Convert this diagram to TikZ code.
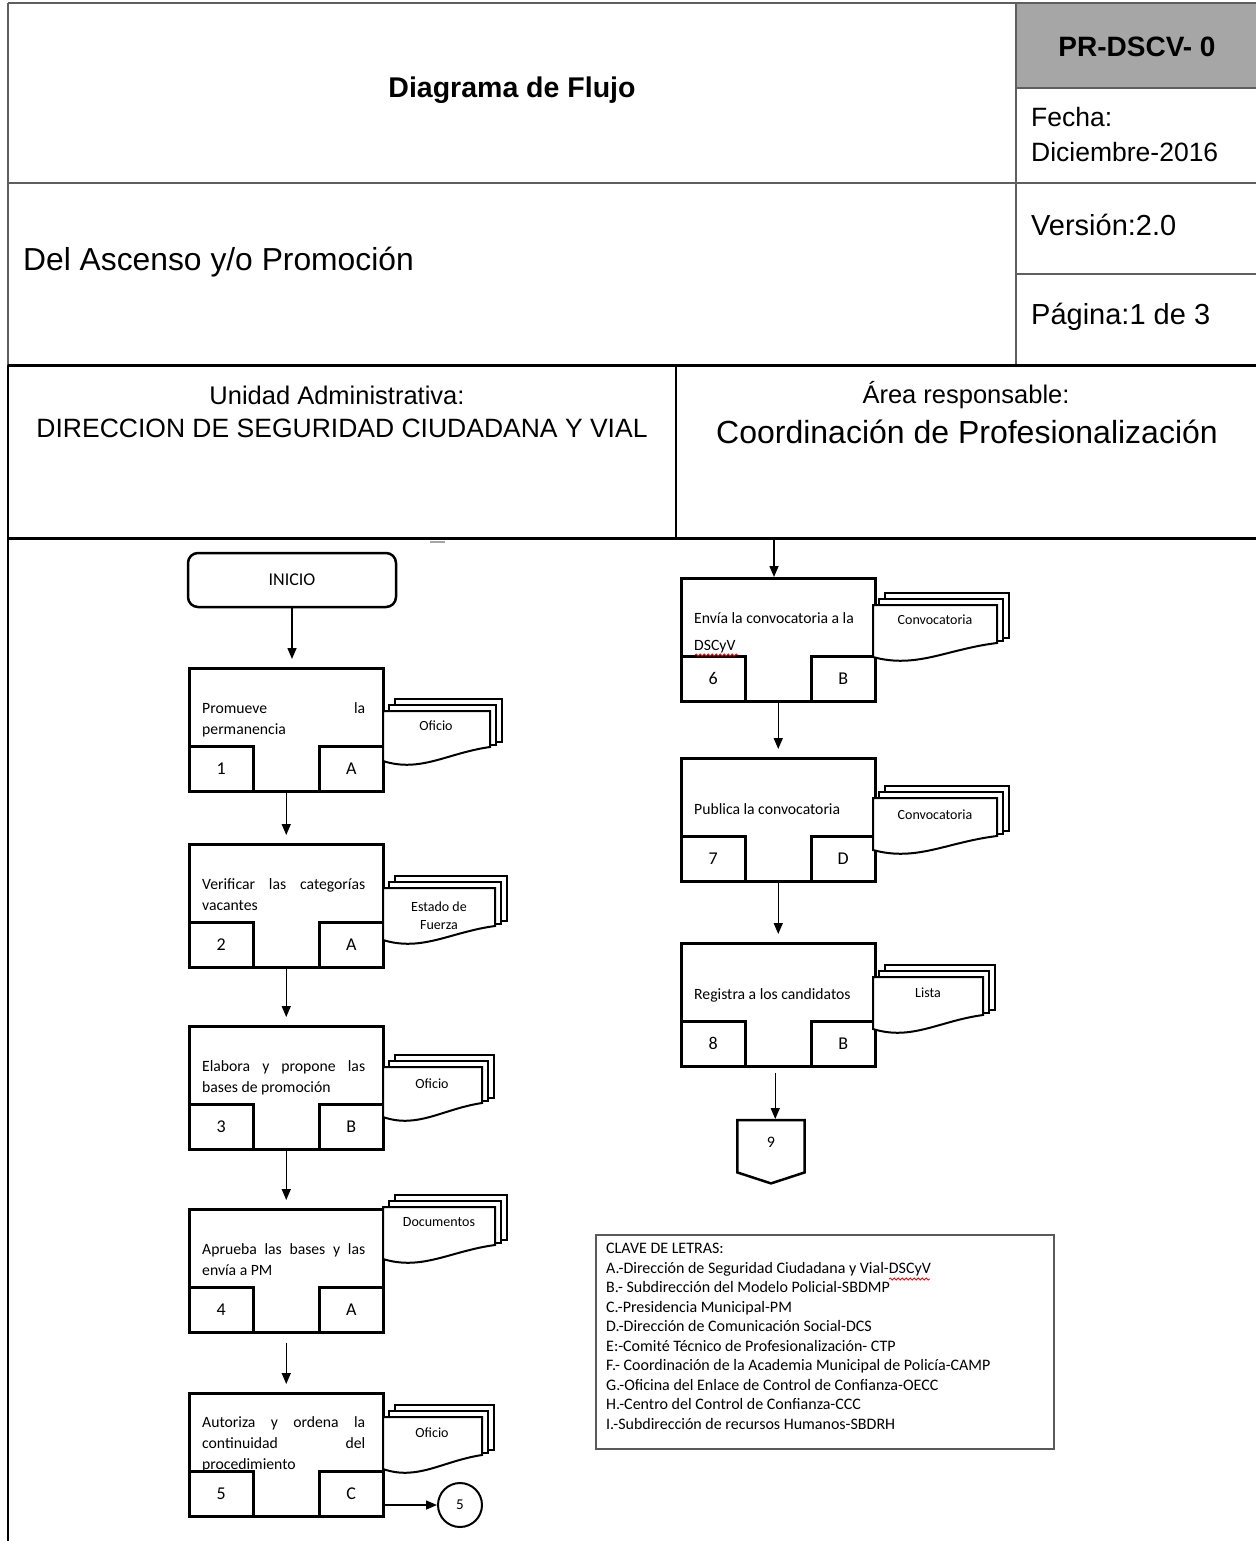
\documentclass[tikz,border=0pt]{standalone}
\usepackage{fontspec}
\setmainfont{Liberation Sans}
\newfontfamily\flowfont{Carlito}
\usepackage{xcolor}
\usetikzlibrary{shapes,arrows,positioning,calc,decorations.pathmorphing,arrows.meta}

\definecolor{hdrgray}{RGB}{95,95,95}
\definecolor{hdrfill}{RGB}{166,166,166}
\definecolor{clavegray}{RGB}{90,90,90}

\newcommand{\jl}[1]{\makebox[163pt][s]{#1}}
\newcommand{\docstack}[4]{%
  \filldraw[docline] (#1+12,#2-12) rectangle (#1+#3+12,#2+#4-19);
  \filldraw[docline] (#1+6,#2-6) rectangle (#1+#3+6,#2+#4-16);
  \filldraw[docline] (#1,#2) -- (#1+#3,#2) -- (#1+#3,#2+#4-14)
    .. controls (#1+0.6*#3,#2+#4-8) and (#1+0.35*#3,#2+#4+12) .. (#1,#2+#4) -- cycle;
}

\begin{document}
\begin{tikzpicture}[x=1pt, y=-1pt,
    hdr/.style={draw=hdrgray, line width=2pt},
    sepline/.style={draw=black, line width=3pt},
    hdrtxt/.style={inner sep=0pt, font=\fontsize{26.5}{32}\selectfont},
    proc/.style={draw, line width=2.5pt, minimum width=194pt, minimum height=123pt, inner sep=0pt, anchor=north west},
    tag/.style={draw, line width=2.5pt, minimum width=64pt, minimum height=45pt, inner sep=0pt, font=\flowfont\fontsize{18}{20}\selectfont},
    ptext/.style={anchor=north west, inner sep=0pt, align=left, font=\flowfont\fontsize{15.7}{21}\selectfont},
    doctext/.style={inner sep=0pt, align=center, font=\flowfont\fontsize{14}{18}\selectfont},
    docline/.style={draw, fill=white, line width=2pt},
    flow/.style={-{Triangle[length=11pt,width=9pt]}, line width=1.5pt, shorten >=8pt},
    startbox/.style={draw, line width=2.5pt, rounded corners=10pt, minimum width=208pt, minimum height=54pt, font=\flowfont\fontsize{18}{20}\selectfont},
    spell/.style={draw=red, line width=0.8pt, decorate, decoration={snake, amplitude=1pt, segment length=4pt}}]
\useasboundingbox (0,0) rectangle (1256,1541);

\fill[hdrfill] (1016,3) rectangle (1256,88);
\draw[hdr] (8,3) -- (1256,3);
\draw[hdr] (8,3) -- (8,365);
\draw[hdr] (1016,3) -- (1016,365);
\draw[hdr] (8,183) -- (1256,183);
\draw[hdr] (1016,88) -- (1256,88);
\draw[hdr] (1016,274) -- (1256,274);
\draw[sepline] (8,365) -- (1256,365);
\draw[sepline] (8,538) -- (1256,538);
\draw[line width=1.5pt] (676,365) -- (676,538);
\draw[line width=2.5pt] (8,365) -- (8,1541);
\draw[gray!70, line width=1.5pt] (430,542) -- (445,542);

\node[inner sep=0pt, font=\bfseries\fontsize{28.5}{34}\selectfont] (titulo) at (512,90) {Diagrama de Flujo};
\node[inner sep=0pt, font=\bfseries\fontsize{28}{34}\selectfont] (codigo) at (1137,47) {PR-DSCV- 0};
\node[hdrtxt, anchor=west] (fecha) at (1031,117) {Fecha:};
\node[hdrtxt, anchor=west] (fechaval) at (1031,152) {Diciembre-2016};
\node[hdrtxt, anchor=west, font=\fontsize{29}{34}\selectfont] (version) at (1031,225) {Versión:2.0};
\node[hdrtxt, anchor=west, font=\fontsize{29}{34}\selectfont] (pagina) at (1031,317) {Página:1 de 3};
\node[hdrtxt, anchor=west, font=\fontsize{31.8}{36}\selectfont] (nombre) at (23,262) {Del Ascenso y/o Promoción};
\node[hdrtxt, font=\fontsize{25.5}{30}\selectfont] (unidad) at (337,395) {Unidad Administrativa:};
\node[hdrtxt] (unidadval) at (342,428) {DIRECCION DE SEGURIDAD CIUDADANA Y VIAL};
\node[hdrtxt, font=\fontsize{25.5}{30}\selectfont] (area) at (966,395) {Área responsable:};
\node[hdrtxt, font=\fontsize{32}{38}\selectfont] (areaval) at (967,432) {Coordinación de Profesionalización};

\node[startbox] (inicio) at (292,580) {INICIO};

\node[proc] (p1) at (188,667) {};
\node[tag, anchor=south west] (p1n) at (p1.south west) {1};
\node[tag, anchor=south east] (p1l) at (p1.south east) {A};
\node[ptext] (p1t) at ([xshift=14pt,yshift=-35pt]p1.north west) {\jl{Promueve la}\\permanencia};

\node[proc] (p2) at (188,843) {};
\node[tag, anchor=south west] (p2n) at (p2.south west) {2};
\node[tag, anchor=south east] (p2l) at (p2.south east) {A};
\node[ptext] (p2t) at ([xshift=14pt,yshift=-35pt]p2.north west) {\jl{Verificar las categorías}\\vacantes};

\node[proc] (p3) at (188,1025) {};
\node[tag, anchor=south west] (p3n) at (p3.south west) {3};
\node[tag, anchor=south east] (p3l) at (p3.south east) {B};
\node[ptext] (p3t) at ([xshift=14pt,yshift=-35pt]p3.north west) {\jl{Elabora y propone las}\\bases de promoción};

\node[proc] (p4) at (188,1208) {};
\node[tag, anchor=south west] (p4n) at (p4.south west) {4};
\node[tag, anchor=south east] (p4l) at (p4.south east) {A};
\node[ptext] (p4t) at ([xshift=14pt,yshift=-35pt]p4.north west) {\jl{Aprueba las bases y las}\\envía a PM};

\node[proc] (p5) at (188,1392) {};
\node[tag, anchor=south west] (p5n) at (p5.south west) {5};
\node[tag, anchor=south east] (p5l) at (p5.south east) {C};
\node[ptext] (p5t) at ([xshift=14pt,yshift=-24pt]p5.north west) {\jl{Autoriza y ordena la}\\\jl{continuidad del}\\procedimiento};

\node[proc] (p6) at (680,577) {};
\node[tag, anchor=south west] (p6n) at (p6.south west) {6};
\node[tag, anchor=south east] (p6l) at (p6.south east) {B};
\node[ptext] (p6t) at ([xshift=14pt,yshift=-35pt]p6.north west) {Envía la convocatoria a la\\[6pt]DSCyV};

\node[proc] (p7) at (680,757) {};
\node[tag, anchor=south west] (p7n) at (p7.south west) {7};
\node[tag, anchor=south east] (p7l) at (p7.south east) {D};
\node[ptext] (p7t) at ([xshift=14pt,yshift=-46pt]p7.north west) {Publica la convocatoria};

\node[proc] (p8) at (680,942) {};
\node[tag, anchor=south west] (p8n) at (p8.south west) {8};
\node[tag, anchor=south east] (p8l) at (p8.south east) {B};
\node[ptext] (p8t) at ([xshift=14pt,yshift=-46pt]p8.north west) {Registra a los candidatos};

\docstack{383}{711}{107}{50}
\node[doctext] (doc1) at (436,726) {Oficio};
\docstack{383}{888}{112}{52}
\node[doctext] (doc2) at (439,916) {Estado de\\Fuerza};
\docstack{383}{1067}{99}{50}
\node[doctext] (doc3) at (432,1084) {Oficio};
\docstack{383}{1207}{112}{52}
\node[doctext] (doc4) at (439,1222) {Documentos};
\docstack{383}{1417}{99}{52}
\node[doctext] (doc5) at (432,1433) {Oficio};
\docstack{873}{605}{124}{52}
\node[doctext] (doc6) at (935,620) {Convocatoria};
\docstack{873}{798}{124}{52}
\node[doctext] (doc7) at (935,815) {Convocatoria};
\docstack{873}{977}{110}{52}
\node[doctext] (doc8) at (928,993) {Lista};

\node[circle, draw, line width=2pt, minimum size=44pt, inner sep=0pt, font=\flowfont\fontsize{15}{18}\selectfont] (c5) at (460,1505) {5};
\node[inner sep=0pt, minimum width=67pt, minimum height=63pt, anchor=north] (c9) at (771,1120) {};
\draw[line width=2.5pt] (c9.north west) -- (c9.north east) -- ([yshift=11pt]c9.south east) -- (c9.south) -- ([yshift=11pt]c9.south west) -- cycle;
\node[inner sep=0pt, font=\flowfont\fontsize{16}{18}\selectfont] (c9t) at ([yshift=-22pt]c9.north) {9};

\coordinate (top6) at (774,539);
\draw[flow] (inicio.south) -- (inicio.south |- p1.north);
\draw[flow] (p1.south) -- (p2.north);
\draw[flow] (p2.south) -- (p3.north);
\draw[flow] (p3.south) -- (p4.north);
\draw[flow, shorten <=9pt] (p4.south) -- (p5.north);
\draw[flow, shorten >=0pt] (p5l.east |- c5.west) -- (c5.west);
\draw[flow, shorten >=0pt] (top6) -- (top6 |- p6.north);
\draw[flow] (p6.south) -- (p7.north);
\draw[flow] (p7.south) -- (p8.north);
\draw[flow, shorten >=1pt, shorten <=5pt] ([xshift=-3pt]p8.south) -- ([xshift=-3pt]p8.south |- c9.north);

\node[draw=clavegray, line width=1.5pt, anchor=north west, minimum width=458pt, minimum height=214pt, inner sep=0pt] (clave) at (595,1234) {};
\node[anchor=north west, inner sep=0pt, align=left, font=\flowfont\fontsize{16}{19.5}\selectfont] (clavetxt) at (606,1243) {CLAVE DE LETRAS:\\
A.-Dirección de Seguridad Ciudadana y Vial-DSCyV\\
B.- Subdirección del Modelo Policial-SBDMP\\
C.-Presidencia Municipal-PM\\
D.-Dirección de Comunicación Social-DCS\\
E:-Comité Técnico de Profesionalización- CTP\\
F.- Coordinación de la Academia Municipal de Policía-CAMP\\
G.-Oficina del Enlace de Control de Confianza-OECC\\
H.-Centro del Control de Confianza-CCC\\
I.-Subdirección de recursos Humanos-SBDRH};

\draw[spell] (695,655) -- (738,655);
\draw[spell] (889,1279) -- (930,1279);
\end{tikzpicture}
\end{document}
